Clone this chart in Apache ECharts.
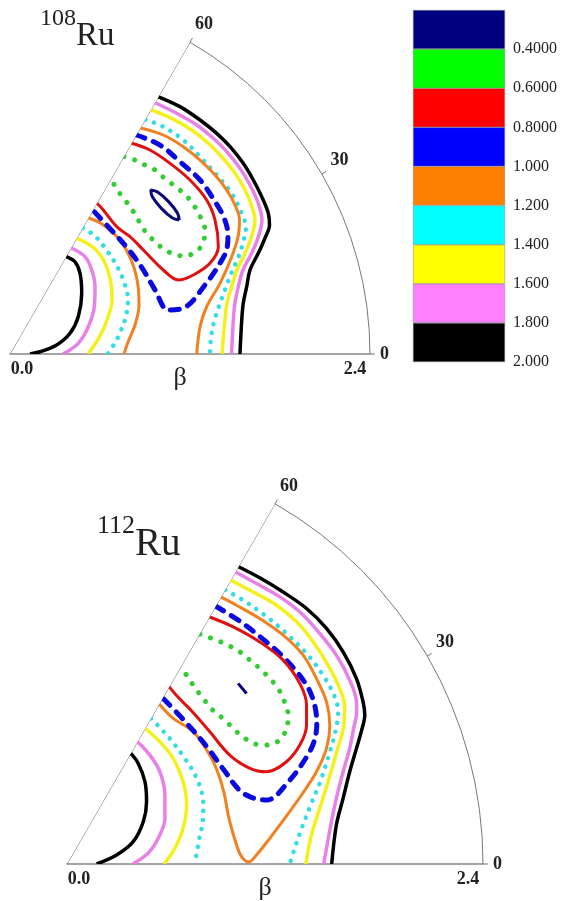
<!DOCTYPE html>
<html>
<head>
<meta charset="utf-8">
<script src="https://cdn.jsdelivr.net/npm/echarts@6/dist/echarts.min.js"></script>
<style>html,body{margin:0;padding:0;background:#fff}#c{width:563px;height:901px}</style>
</head>
<body>
<div id="c"></div>
<script>
// ---- colour bar levels ----
const levels = [0.4, 0.6, 0.8, 1.0, 1.2, 1.4, 1.6, 1.8, 2.0];
const levelLabels = ['0.4000', '0.6000', '0.8000', '1.000', '1.200', '1.400', '1.600', '1.800', '2.000'];
const barColors = ['#000080', '#00ff00', '#ff0000', '#0000ff', '#ff8000', '#00ffff', '#ffff00', '#ff80ff', '#000000'];
const lineColors = ['#08087a', '#33cc33', '#e01010', '#0a0ae0', '#f08020', '#33dde0', '#f4f01c', '#e880e8', '#000000'];
const angleTicks = [0, 30, 60];
const betaTicks = [0, 2.4];

// ---- contour points, given as (beta*cos(gamma), beta*sin(gamma)) ----
// 108Ru
const r108_20a = [[0.99,1.715],[1.133,1.649],[1.267,1.56],[1.378,1.471],[1.467,1.382],[1.555,1.271],[1.622,1.16],[1.678,1.049],[1.722,0.938],[1.73,0.86],[1.70,0.773],[1.655,0.671],[1.60,0.56],[1.578,0.449],[1.555,0.338],[1.545,0.227],[1.533,0]];
const r108_20b = [[0.375,0.65],[0.433,0.615],[0.467,0.538],[0.478,0.405],[0.455,0.249],[0.40,0.138],[0.311,0.06],[0.20,0.015],[0.133,0]];
const r108_18a = [[0.967,1.675],[1.111,1.605],[1.245,1.527],[1.355,1.438],[1.445,1.349],[1.533,1.238],[1.60,1.127],[1.655,1.005],[1.68,0.893],[1.653,0.773],[1.611,0.671],[1.553,0.56],[1.522,0.449],[1.50,0.34],[1.489,0.227],[1.477,0]];
const r108_18b = [[0.408,0.707],[0.50,0.649],[0.545,0.56],[0.567,0.449],[0.562,0.315],[0.522,0.182],[0.455,0.071],[0.353,0]];
const r108_16a = [[0.94,1.628],[1.078,1.571],[1.211,1.493],[1.322,1.405],[1.411,1.315],[1.50,1.205],[1.567,1.093],[1.613,0.982],[1.633,0.893],[1.607,0.773],[1.567,0.671],[1.513,0.56],[1.478,0.449],[1.447,0.34],[1.433,0.227],[1.413,0]];
const r108_16b = [[0.445,0.771],[0.56,0.707],[0.633,0.607],[0.673,0.473],[0.68,0.36],[0.647,0.227],[0.593,0.107],[0.52,0]];
const r108_14a = [[0.903,1.564],[1.022,1.515],[1.155,1.427],[1.267,1.315],[1.378,1.193],[1.478,1.071],[1.545,0.938],[1.573,0.84],[1.553,0.74],[1.52,0.64],[1.473,0.533],[1.433,0.427],[1.393,0.32],[1.36,0.213],[1.34,0.107],[1.333,0]];
const r108_14b = [[0.485,0.84],[0.567,0.787],[0.653,0.68],[0.72,0.573],[0.767,0.46],[0.787,0.36],[0.773,0.253],[0.733,0.14],[0.687,0.053],[0.653,0]];
const r108_12a = [[0.87,1.507],[1.022,1.46],[1.155,1.382],[1.267,1.293],[1.367,1.193],[1.445,1.093],[1.50,0.993],[1.53,0.893],[1.52,0.78],[1.475,0.64],[1.40,0.471],[1.311,0.315],[1.267,0.182],[1.245,0]];
const r108_12b = [[0.523,0.907],[0.613,0.867],[0.733,0.76],[0.813,0.613],[0.853,0.46],[0.86,0.327],[0.833,0.193],[0.787,0.08],[0.76,0]];
const r108_10 = [[0.843,1.46],[1.0,1.393],[1.133,1.282],[1.267,1.16],[1.36,1.027],[1.427,0.907],[1.453,0.793],[1.447,0.707],[1.40,0.605],[1.30,0.46],[1.167,0.311],[1.055,0.293],[0.967,0.427],[0.889,0.56],[0.811,0.671],[0.70,0.80],[0.553,0.958]];
const r108_08 = [[0.811,1.405],[0.933,1.36],[1.067,1.271],[1.20,1.16],[1.311,1.027],[1.367,0.893],[1.389,0.715],[1.333,0.605],[1.222,0.527],[1.122,0.493],[1.022,0.56],[0.889,0.693],[0.80,0.782],[0.711,0.849],[0.622,0.96],[0.58,1.005]];
const r108_06 = [[0.76,1.316],[0.833,1.293],[0.90,1.26],[0.967,1.227],[1.022,1.178],[1.089,1.127],[1.145,1.082],[1.20,1.027],[1.245,0.96],[1.278,0.893],[1.30,0.827],[1.293,0.76],[1.267,0.707],[1.222,0.671],[1.167,0.653],[1.111,0.66],[1.055,0.682],[0.989,0.727],[0.933,0.782],[0.878,0.849],[0.845,0.915],[0.767,1.027],[0.70,1.115],[0.68,1.178]];
const r108_04 = [[1.128,0.893],[1.117,0.939],[1.057,1.016],[0.984,1.08],[0.939,1.093],[0.949,1.048],[1.009,0.971],[1.083,0.907],[1.128,0.893]];
// 112Ru
const r112_20a = [[0.99,1.715],[1.112,1.651],[1.247,1.569],[1.382,1.474],[1.497,1.359],[1.593,1.224],[1.67,1.07],[1.708,0.936],[1.718,0.859],[1.70,0.772],[1.67,0.667],[1.631,0.532],[1.593,0.379],[1.554,0.225],[1.527,0]];
const r112_20b = [[0.368,0.638],[0.411,0.58],[0.45,0.474],[0.459,0.359],[0.44,0.244],[0.382,0.129],[0.286,0.052],[0.171,0]];
const r112_18a = [[0.973,1.685],[1.093,1.618],[1.228,1.541],[1.353,1.445],[1.458,1.33],[1.554,1.205],[1.631,1.061],[1.67,0.935],[1.671,0.876],[1.654,0.784],[1.631,0.667],[1.593,0.532],[1.554,0.379],[1.522,0.225],[1.481,0]];
const r112_18b = [[0.407,0.705],[0.478,0.628],[0.536,0.532],[0.565,0.398],[0.565,0.263],[0.526,0.148],[0.469,0.063],[0.38,0]];
const r112_16a = [[0.945,1.637],[1.074,1.569],[1.209,1.493],[1.324,1.397],[1.42,1.282],[1.506,1.147],[1.573,1.013],[1.602,0.907],[1.597,0.801],[1.556,0.646],[1.506,0.474],[1.458,0.321],[1.41,0.167],[1.378,0]];
const r112_16b = [[0.451,0.782],[0.536,0.705],[0.613,0.609],[0.67,0.474],[0.69,0.34],[0.67,0.206],[0.622,0.09],[0.56,0]];
const r112_14a = [[0.913,1.582],[1.016,1.522],[1.141,1.435],[1.266,1.33],[1.382,1.214],[1.477,1.089],[1.545,0.964],[1.564,0.876],[1.55,0.772],[1.516,0.646],[1.464,0.484],[1.406,0.34],[1.354,0.207],[1.314,0.092],[1.285,0]];
const r112_14b = [[0.485,0.84],[0.584,0.734],[0.68,0.609],[0.748,0.494],[0.786,0.359],[0.784,0.254],[0.761,0.138],[0.738,0]];
const r112_12 = [[0.889,1.54],[0.978,1.493],[1.112,1.416],[1.247,1.32],[1.362,1.205],[1.439,1.07],[1.497,0.935],[1.516,0.801],[1.497,0.667],[1.439,0.532],[1.353,0.398],[1.256,0.263],[1.17,0.148],[1.093,0.052],[1.049,0.012],[1.009,0.04],[0.978,0.11],[0.934,0.265],[0.905,0.415],[0.865,0.542],[0.813,0.646],[0.728,0.763],[0.613,0.84],[0.533,0.922]];
const r112_10 = [[0.859,1.487],[0.997,1.401],[1.131,1.297],[1.266,1.176],[1.382,1.032],[1.429,0.916],[1.441,0.801],[1.424,0.703],[1.382,0.617],[1.285,0.484],[1.151,0.369],[1.016,0.409],[0.901,0.548],[0.813,0.669],[0.68,0.824],[0.553,0.957]];
const r112_08 = [[0.823,1.425],[0.959,1.368],[1.112,1.281],[1.247,1.176],[1.343,1.042],[1.382,0.916],[1.382,0.801],[1.343,0.686],[1.266,0.59],[1.151,0.532],[1.055,0.552],[0.939,0.628],[0.824,0.763],[0.726,0.876],[0.64,0.963],[0.59,1.022]];
const r112_06 = [[0.767,1.326],[0.863,1.291],[0.93,1.262],[0.997,1.224],[1.055,1.176],[1.112,1.128],[1.17,1.07],[1.218,1.013],[1.251,0.945],[1.274,0.876],[1.274,0.813],[1.256,0.755],[1.21,0.703],[1.147,0.686],[1.089,0.692],[1.032,0.721],[0.968,0.772],[0.911,0.83],[0.841,0.888],[0.784,0.957],[0.732,1.026],[0.686,1.095],[0.657,1.135]];
const r112_04 = [[0.987,1.042],[1.036,0.984]];

const FONT = 'Liberation Serif';

function toPolar(pts) {
  return pts.map(function (p) {
    let g = Math.atan2(p[1], p[0]) * 180 / Math.PI;
    g = Math.max(0, Math.min(60, g));
    return [Math.hypot(p[0], p[1]), g];
  });
}

// level index -> style
function lineStyleFor(li) {
  const c = lineColors[li];
  const lv = levels[li];
  if (lv === 0.6) return { color: c, width: 5, type: [0.1, 11], cap: 'round' };
  if (lv === 1.4) return { color: c, width: 4.5, type: [0.1, 9], cap: 'round' };
  if (lv === 1.0) return { color: c, width: 5, type: [9, 9], cap: 'round' };
  if (lv === 2.0) return { color: c, width: 3.5 };
  if (lv === 1.8 || lv === 1.6) return { color: c, width: 3.5 };
  return { color: c, width: 3 };
}

const plots = [
  { contours: [
    [8, r108_20a], [8, r108_20b], [7, r108_18a], [7, r108_18b], [6, r108_16a], [6, r108_16b],
    [5, r108_14a], [5, r108_14b], [4, r108_12a], [4, r108_12b], [3, r108_10], [2, r108_08],
    [1, r108_06], [0, r108_04]] },
  { contours: [
    [8, r112_20a], [8, r112_20b], [7, r112_18a], [7, r112_18b], [6, r112_16a], [6, r112_16b],
    [5, r112_14a], [5, r112_14b], [4, r112_12], [3, r112_10], [2, r112_08],
    [1, r112_06], [0, r112_04]] }
];

const series = [];
plots.forEach(function (pl, pi) {
  // 60-degree edge of the sector
  series.push({
    type: 'line', coordinateSystem: 'polar', polarIndex: pi, silent: true,
    data: [[betaTicks[0], angleTicks[2]], [betaTicks[1], angleTicks[2]]],
    showSymbol: false, lineStyle: { color: '#666', width: 1 }, z: 1
  });
  pl.contours.forEach(function (ct) {
    series.push({
      type: 'line', coordinateSystem: 'polar', polarIndex: pi, silent: true,
      data: toPolar(ct[1]), showSymbol: false, smooth: 0.35,
      lineStyle: lineStyleFor(ct[0]), z: 3
    });
  });
});

// colour bar as a stacked bar
levels.forEach(function (lv, i) {
  series.push({
    type: 'bar', xAxisIndex: 0, yAxisIndex: 0, stack: 'cb', silent: true,
    data: [1], barWidth: '100%',
    itemStyle: { color: barColors[i], borderColor: '#888', borderWidth: 0.5 }
  });
});

function angleAxisCfg(pi) {
  return {
    polarIndex: pi, type: 'value', min: angleTicks[0], max: angleTicks[2], interval: 30,
    startAngle: 0, endAngle: 60, clockwise: false,
    axisLine: { lineStyle: { color: '#777', width: 1 } },
    axisTick: { show: true, length: 5, lineStyle: { color: '#777' } },
    axisLabel: { margin: 10, fontFamily: FONT, fontWeight: 'bold', fontSize: 18, color: '#222' },
    splitLine: { show: false }
  };
}
function radiusAxisCfg(pi) {
  return {
    polarIndex: pi, type: 'value', min: betaTicks[0], max: betaTicks[1], interval: 2.4,
    axisLine: { lineStyle: { color: '#888', width: 1.5 } },
    axisTick: { show: false }, splitLine: { show: false },
    axisLabel: {
      margin: -6, verticalAlign: 'top', color: '#222',
      formatter: function (v) { return v < 1 ? '{l|0.0}' : '{r|2.4}'; },
      rich: {
        l: { fontFamily: FONT, fontWeight: 'bold', fontSize: 18, color: '#222', padding: [0, 0, 0, 24] },
        r: { fontFamily: FONT, fontWeight: 'bold', fontSize: 18, color: '#222', padding: [0, 30, 0, 0] }
      }
    },
    name: 'β', nameLocation: 'middle', nameGap: 11, nameMoveOverlap: false,
    nameTextStyle: { fontFamily: FONT, fontSize: 26, color: '#222', padding: [0, 20, 0, 0] }
  };
}

function titleRich(supSize, mainSize, lineH) {
  return {
    s: { fontFamily: FONT, fontWeight: 'normal', fontSize: supSize, color: '#222', lineHeight: supSize, verticalAlign: 'top' },
    r: { fontFamily: FONT, fontWeight: 'normal', fontSize: mainSize, color: '#222', lineHeight: lineH, verticalAlign: 'bottom' }
  };
}

const option = {
  animation: false,
  backgroundColor: '#fff',
  title: [
    { text: '{s|108}{r|Ru}', left: 40, top: 7, padding: 0,
      textStyle: { fontWeight: 'normal', rich: titleRich(24, 33, 46) } },
    { text: '{s|112}{r|Ru}', left: 97, top: 513, padding: 0,
      textStyle: { fontWeight: 'normal', rich: titleRich(26, 39, 51) } }
  ],
  polar: [
    { center: [10, 354], radius: 360 },
    { center: [67, 864], radius: 416 }
  ],
  angleAxis: [angleAxisCfg(0), angleAxisCfg(1)],
  radiusAxis: [radiusAxisCfg(0), radiusAxisCfg(1)],
  grid: [{ left: 413, top: 10, width: 92, height: 352 }],
  xAxis: [{ gridIndex: 0, type: 'category', data: ['c'], show: false }],
  yAxis: [{
    gridIndex: 0, type: 'value', min: 0, max: levels.length, interval: 1, inverse: true, position: 'right',
    axisLine: { show: false }, axisTick: { show: false }, splitLine: { show: false },
    axisLabel: {
      margin: 8, fontFamily: FONT, fontSize: 16, color: '#222',
      formatter: function (v) { return v >= 1 ? levelLabels[v - 1] : ''; }
    }
  }],
  series: series
};

const chart = echarts.init(document.getElementById('c'), null, { renderer: 'canvas' });
chart.setOption(option);
</script>
</body>
</html>
